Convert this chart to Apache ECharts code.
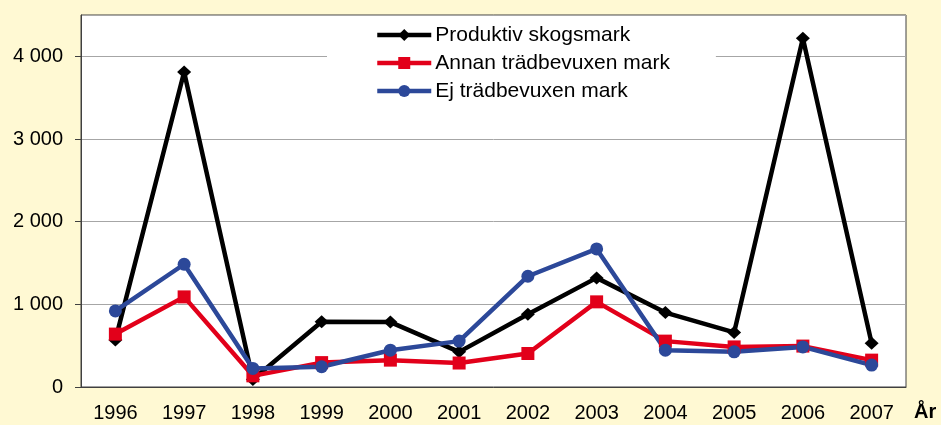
<!DOCTYPE html>
<html><head><meta charset="utf-8">
<script src="https://cdn.jsdelivr.net/npm/echarts@6/dist/echarts.min.js"></script>
<style>html,body{margin:0;padding:0;background:#FFF9D3;}#c{width:941px;height:425px;}</style>
</head><body><div id="c"></div>
<script>
const years = ['1996','1997','1998','1999','2000','2001','2002','2003','2004','2005','2006','2007'];
const produktiv = [570, 3810, 90, 790, 785, 425, 880, 1320, 900, 660, 4220, 530];
const annan = [640, 1090, 135, 295, 325, 290, 405, 1030, 555, 485, 495, 325];
const ej = [920, 1485, 225, 245, 445, 555, 1340, 1670, 445, 425, 485, 265];
const seriesNames = ['Produktiv skogsmark', 'Annan trädbevuxen mark', 'Ej trädbevuxen mark'];
const axisName = 'År';

const font = 'Arial, "Liberation Sans", sans-serif';
const fmt = v => v >= 1000 ? Math.floor(v/1000) + ' ' + String(v % 1000).padStart(3, '0') : String(v);

const chart = echarts.init(document.getElementById('c'), null, {renderer: 'canvas'});
chart.setOption({
  backgroundColor: '#FFF9D3',
  animation: false,
  grid: {left: 81, top: 15, right: 35, bottom: 38, show: true, backgroundColor: '#ffffff', borderColor: '#404040', borderWidth: 1},
  legend: {
    orient: 'vertical', left: 327, top: 16,
    padding: [8, 46, 10, 48],
    backgroundColor: '#ffffff',
    itemWidth: 54, itemHeight: 15, itemGap: 6,
    lineStyle: {width: 4.5},
    textStyle: {fontFamily: font, fontSize: 21, color: '#000', lineHeight: 22, padding: [0,0,0,-1]},
    data: seriesNames
  },
  xAxis: {
    type: 'category', data: years, boundaryGap: true,
    axisLine: {lineStyle: {color: '#404040', width: 1}},
    axisTick: {length: 6, lineStyle: {color: '#404040'}},
    axisLabel: {fontFamily: font, fontSize: 20, color: '#000', margin: 16}
  },
  yAxis: {
    type: 'value', min: 0, max: 4500, interval: 1000,
    axisLine: {show: true, lineStyle: {color: '#404040', width: 1}},
    axisTick: {show: true, length: 6, lineStyle: {color: '#404040'}},
    axisLabel: {fontFamily: font, fontSize: 20, color: '#000', margin: 18, formatter: fmt, showMaxLabel: false},
    splitLine: {show: true, lineStyle: {color: '#a6a6a6', width: 1}}
  },
  graphic: [{type: 'text', left: 914, top: 402, style: {text: axisName, fontFamily: font, fontSize: 20, fontWeight: 'bold', fill: '#000'}}],
  series: [
    {name: seriesNames[0], type: 'line', data: produktiv, symbol: 'diamond', symbolSize: [14, 13],
     lineStyle: {color: '#000000', width: 4.5}, itemStyle: {color: '#000000'}},
    {name: seriesNames[1], type: 'line', data: annan, symbol: 'rect', symbolSize: 13,
     lineStyle: {color: '#E2001A', width: 4.5}, itemStyle: {color: '#E2001A'}},
    {name: seriesNames[2], type: 'line', data: ej, symbol: 'circle', symbolSize: 13,
     lineStyle: {color: '#2C4899', width: 4.5}, itemStyle: {color: '#2C4899'}}
  ]
});
</script></body></html>
